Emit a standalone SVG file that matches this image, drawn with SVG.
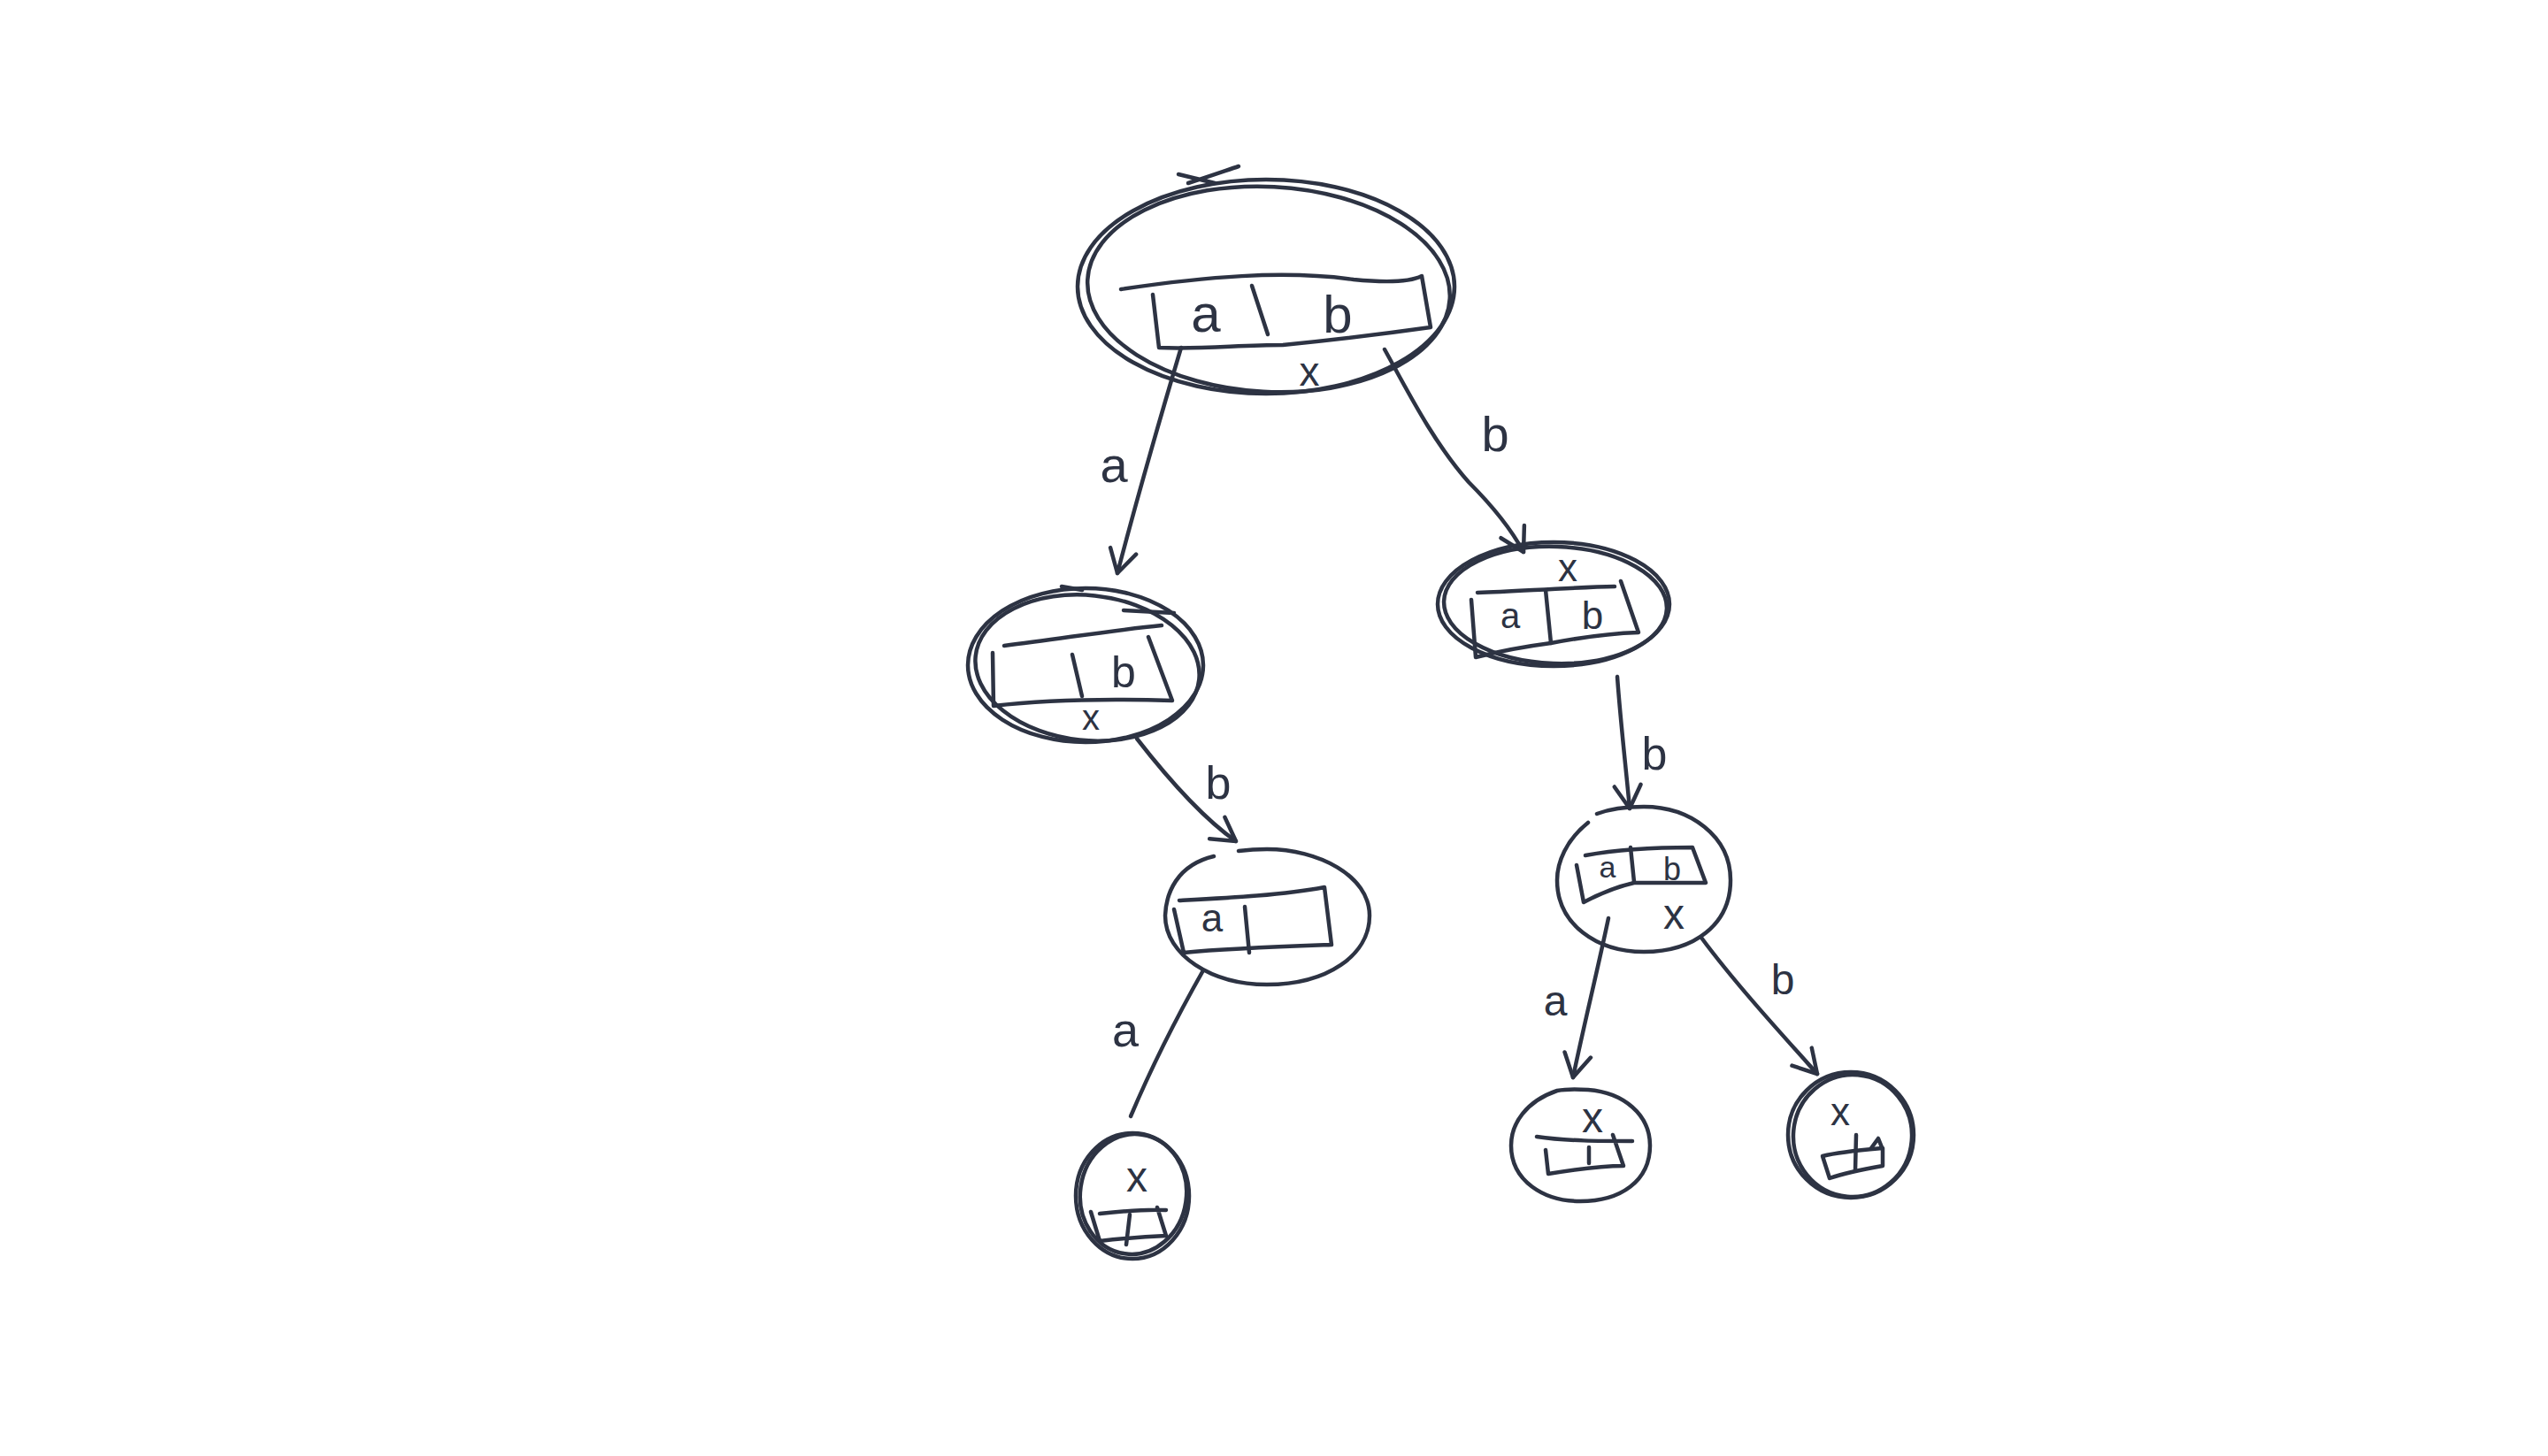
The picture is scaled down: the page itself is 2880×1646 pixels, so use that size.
<svg xmlns="http://www.w3.org/2000/svg" width="2880" height="1646" viewBox="0 0 2880 1646">
<defs>
<style>
.s{fill:none;stroke:#2d3343;stroke-width:4.5;stroke-linecap:round;stroke-linejoin:round}
.t{fill:#2d3343;font-family:"Liberation Sans","DejaVu Sans",sans-serif;text-anchor:middle}
</style>
<marker id="arr" viewBox="-32 -20 36 40" refX="0" refY="0" markerWidth="36" markerHeight="40" markerUnits="userSpaceOnUse" orient="auto">
<path d="M -26 -15 L 0 0 L -26 15" fill="none" stroke="#2d3343" stroke-width="4.5" stroke-linecap="round" stroke-linejoin="round"/>
</marker>
</defs>
<rect width="2880" height="1646" fill="#ffffff"/>

<g id="connectors">
<path class="s" d="M1335,393 C1318,450 1290,545 1263,648" marker-end="url(#arr)"/>
<path class="s" d="M1565,395 C1590,440 1620,500 1660,545 C1690,575 1708,598 1722,624" marker-end="url(#arr)"/>
<path class="s" d="M1285,835 C1320,880 1360,925 1397,951" marker-end="url(#arr)"/>
<path class="s" d="M1360,1097 C1330,1150 1300,1210 1278,1262"/>
<path class="s" d="M1828,765 C1832,820 1838,870 1842,914" marker-end="url(#arr)"/>
<path class="s" d="M1818,1038 C1805,1100 1790,1160 1778,1218" marker-end="url(#arr)"/>
<path class="s" d="M1923,1060 C1960,1110 2010,1165 2054,1214" marker-end="url(#arr)"/>
<text class="t" x="1259" y="545" font-size="56">a</text>
<text class="t" x="1690" y="510" font-size="56">b</text>
<text class="t" x="1377" y="903" font-size="52">b</text>
<text class="t" x="1272" y="1183" font-size="54">a</text>
<text class="t" x="1870" y="870" font-size="52">b</text>
<text class="t" x="1758" y="1148" font-size="48">a</text>
<text class="t" x="2015" y="1124" font-size="48">b</text>
</g>

<g id="root">
<ellipse class="s" cx="1431" cy="324" rx="213" ry="121"/>
<ellipse class="s" cx="1434" cy="327" rx="205" ry="116" transform="rotate(3 1434 327)"/>
<path class="s" d="M1332,197 L1373,207 M1343,207 C1365,200 1385,193 1400,188"/>
<path class="s" d="M1267,327 C1360,313 1450,305 1530,316 C1570,320 1595,318 1607,312 L1617,370 C1560,378 1500,385 1450,390 C1400,390 1360,395 1310,393 L1303,333"/>
<path class="s" d="M1415,323 L1433,378"/>
<text class="t" x="1363" y="375" font-size="60">a</text>
<text class="t" x="1512" y="376" font-size="60">b</text>
<text class="t" x="1480" y="436" font-size="46">x</text>
</g>

<g id="n_left1">
<ellipse class="s" cx="1227" cy="752" rx="133" ry="87"/>
<ellipse class="s" cx="1229" cy="755" rx="127" ry="82" transform="rotate(6 1229 755)"/>
<path class="s" d="M1200,663 L1223,667 M1270,690 L1327,693"/>
<path class="s" d="M1135,730 C1200,722 1260,712 1313,707 M1122,738 L1123,798 C1190,790 1260,790 1325,792 L1298,720"/>
<path class="s" d="M1212,740 L1223,787"/>
<text class="t" x="1270" y="777" font-size="50">b</text>
<text class="t" x="1233" y="825" font-size="40">x</text>
</g>

<g id="n_left2">
<path class="s" d="M1372,968 C1330,978 1318,1010 1317,1035 C1317,1080 1370,1113 1432,1113 C1500,1113 1548,1080 1548,1035 C1548,990 1490,960 1432,960 C1420,960 1408,961 1400,962"/>
<path class="s" d="M1333,1018 C1390,1015 1450,1012 1497,1003 L1505,1068 C1450,1070 1390,1072 1338,1077 L1327,1028"/>
<path class="s" d="M1407,1025 L1412,1077"/>
<text class="t" x="1370" y="1053" font-size="44">a</text>
</g>

<g id="n_leaf_a">
<ellipse class="s" cx="1280" cy="1352" rx="64" ry="71"/>
<ellipse class="s" cx="1281" cy="1350" rx="60" ry="68" transform="rotate(8 1281 1350)"/>
<path class="s" d="M1243,1372 C1270,1369 1295,1367 1318,1368 M1233,1370 L1243,1403 C1270,1400 1295,1398 1318,1397 L1308,1365"/>
<path class="s" d="M1277,1373 L1273,1407"/>
<text class="t" x="1285" y="1347" font-size="48">x</text>
</g>

<g id="n_right1">
<ellipse class="s" cx="1756" cy="683" rx="131" ry="70"/>
<ellipse class="s" cx="1758" cy="684" rx="126" ry="66" transform="rotate(2 1758 684)"/>
<path class="s" d="M1670,670 C1720,668 1780,664 1825,663 M1663,678 L1668,743 C1700,735 1730,730 1753,727 C1790,720 1820,716 1852,715 L1832,657"/>
<path class="s" d="M1747,667 L1753,727"/>
<text class="t" x="1772" y="657" font-size="44">x</text>
<text class="t" x="1707" y="710" font-size="40">a</text>
<text class="t" x="1800" y="711" font-size="44">b</text>
</g>

<g id="n_right2">
<path class="s" d="M1795,930 C1770,950 1760,975 1760,995 C1760,1045 1805,1076 1858,1076 C1915,1076 1956,1045 1956,995 C1956,945 1910,912 1858,912 C1835,912 1818,915 1805,920"/>
<path class="s" d="M1792,967 C1830,960 1870,958 1913,958 L1928,998 C1900,998 1870,998 1847,998 C1825,1003 1805,1012 1790,1020 L1782,978"/>
<path class="s" d="M1843,958 L1847,997"/>
<text class="t" x="1817" y="992" font-size="34">a</text>
<text class="t" x="1890" y="995" font-size="36">b</text>
<text class="t" x="1892" y="1050" font-size="48">x</text>
</g>

<g id="n_leaf_ra">
<path class="s" d="M1760,1233 C1725,1245 1708,1270 1708,1295 C1708,1335 1745,1358 1786,1358 C1832,1358 1865,1335 1865,1295 C1865,1260 1835,1235 1795,1232 C1780,1231 1770,1231 1760,1233 Z"/>
<path class="s" d="M1737,1285 C1770,1290 1810,1290 1845,1290 M1747,1300 L1750,1327 C1780,1322 1810,1318 1835,1318 L1823,1283"/>
<path class="s" d="M1796,1297 L1796,1315"/>
<text class="t" x="1800" y="1280" font-size="48">x</text>
</g>

<g id="n_leaf_rb">
<ellipse class="s" cx="2092" cy="1283" rx="71" ry="71"/>
<ellipse class="s" cx="2094" cy="1284" rx="67" ry="69" transform="rotate(5 2094 1284)"/>
<path class="s" d="M2060,1307 C2080,1302 2105,1300 2128,1298 L2128,1318 C2105,1322 2085,1326 2068,1332 Z"/>
<path class="s" d="M2098,1283 L2097,1323 M2115,1298 L2123,1287 L2127,1297"/>
<text class="t" x="2080" y="1272" font-size="44">x</text>
</g>
</svg>
